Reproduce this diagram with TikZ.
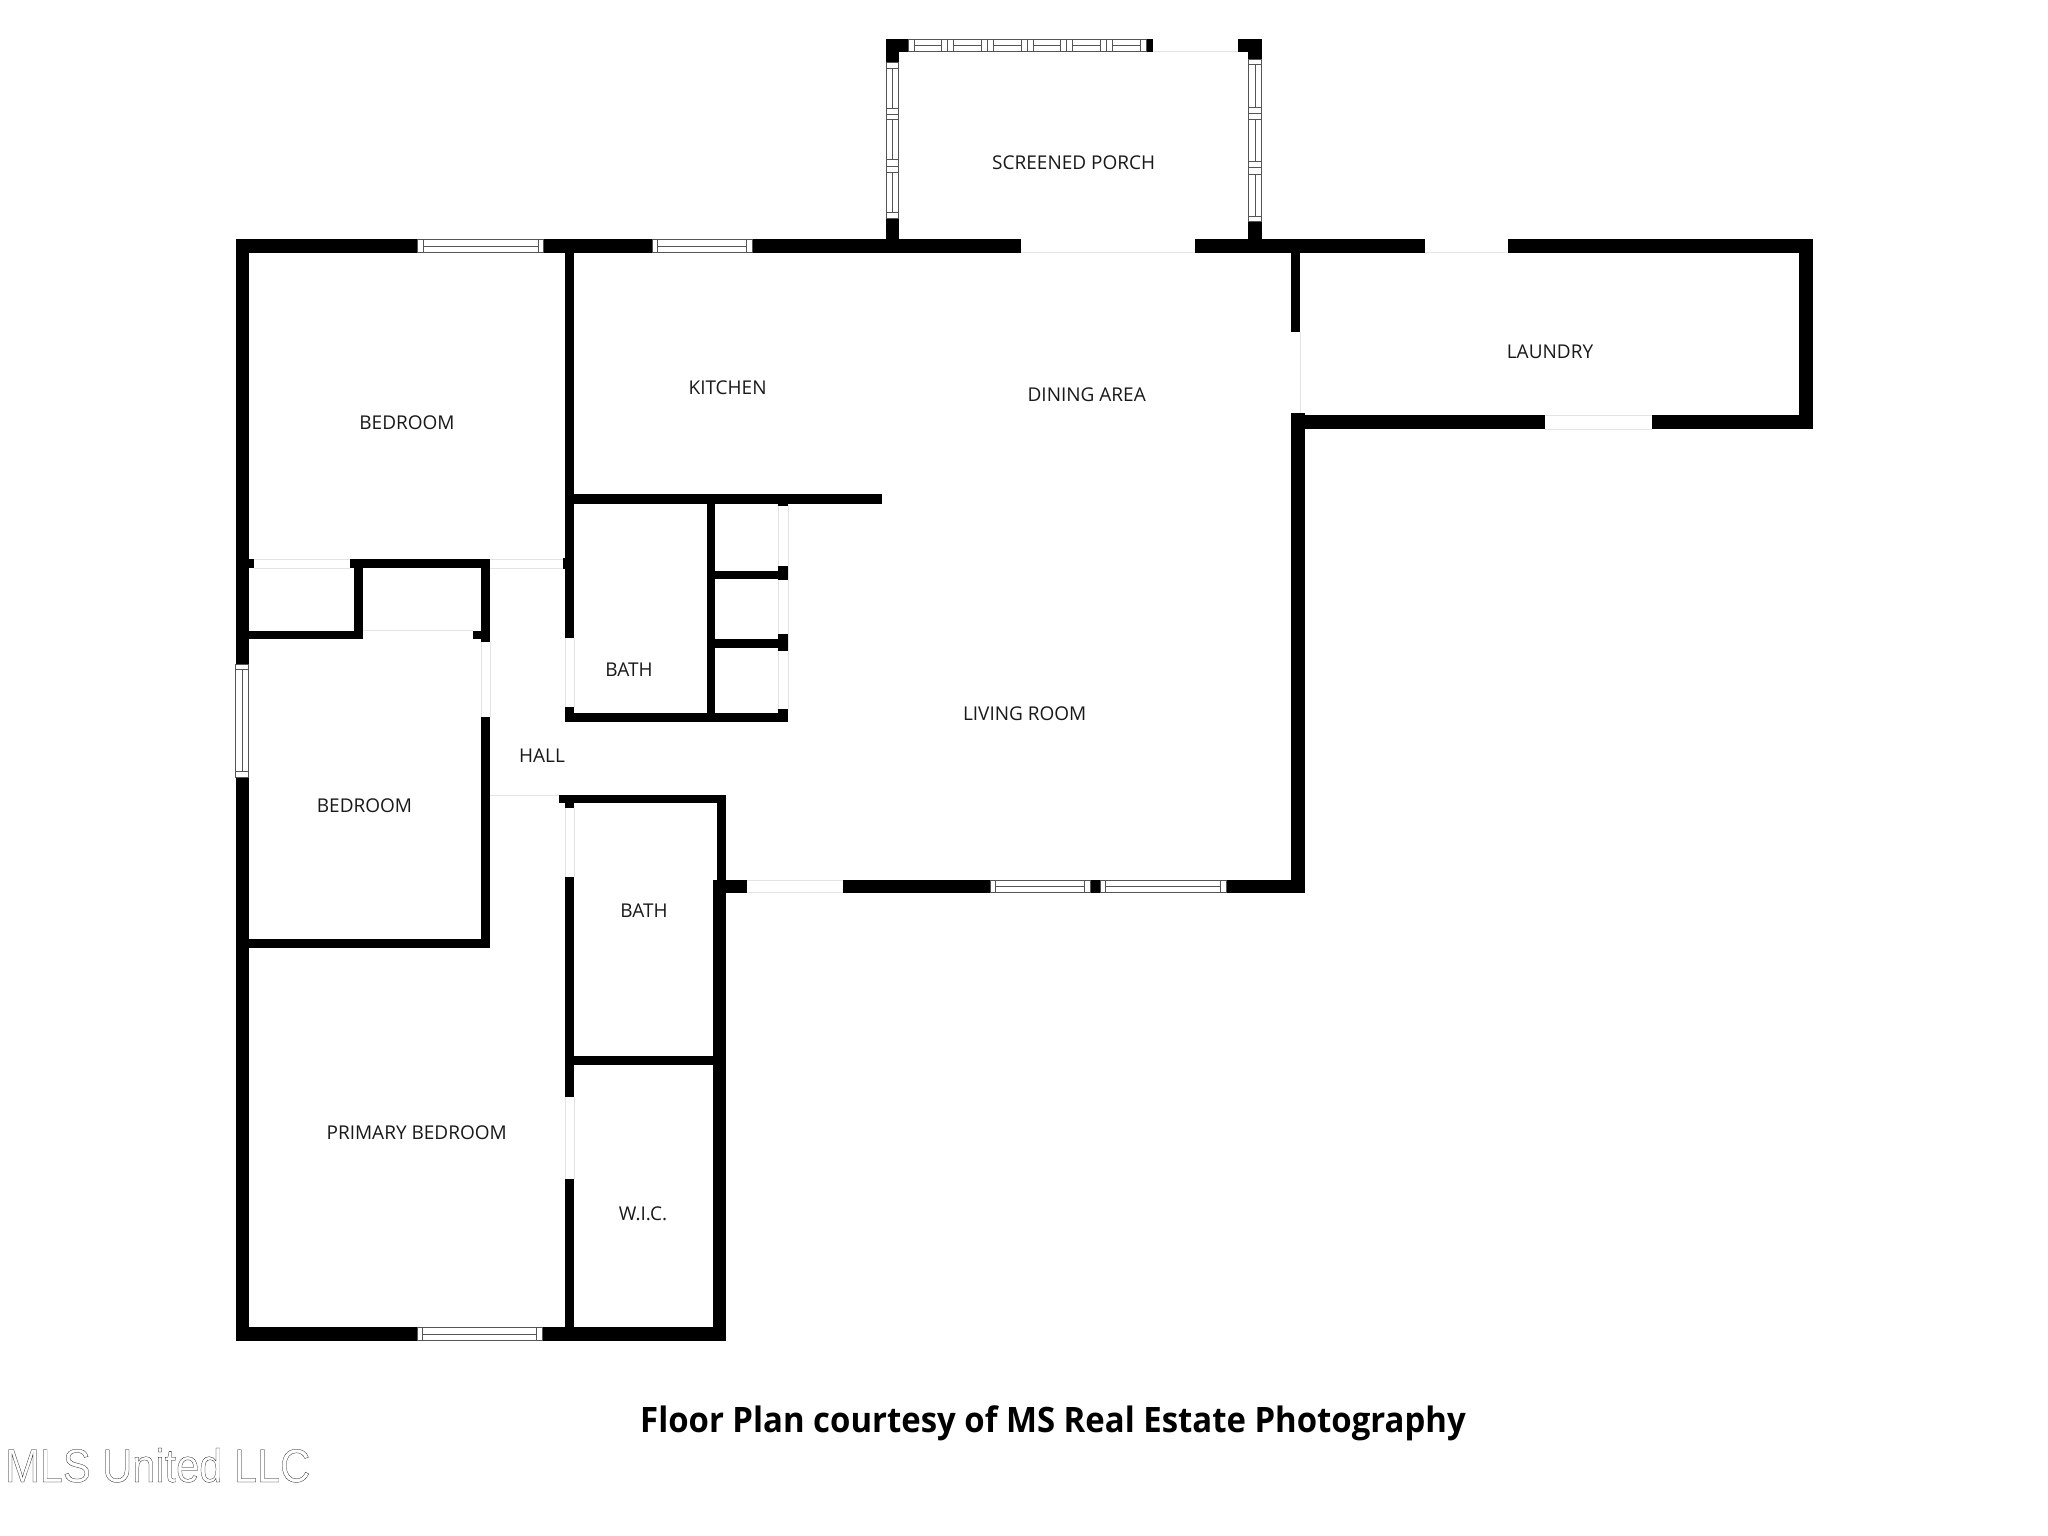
\documentclass[tikz,border=0pt]{standalone}
\usepackage{fontspec}
\setmainfont{Open Sans}
\newfontfamily\markfont{Liberation Sans}
\definecolor{doorgray}{HTML}{E4E4E4}
\definecolor{wingray}{HTML}{555555}
\tikzset{
  wallfill/.style={fill=black},
  doorline/.style={draw=doorgray, line width=1pt},
  winline/.style={draw=wingray, line width=1pt},
  roomlabel/.style={inner sep=0pt, font=\fontsize{19}{19}\selectfont, text=black!90},
}
% plain windows: x1 x2 y1 y2
\newcommand{\hwindow}[4]{
  \draw[winline, fill=white] (#1,#3) rectangle (#2,#4);
  \draw[winline] (#1+5.5,#3) -- (#1+5.5,#4) (#2-5.5,#3) -- (#2-5.5,#4);
  \draw[winline] (#1+5.5,{(#3+#4)/2}) -- (#2-5.5,{(#3+#4)/2});
}
\newcommand{\vwindow}[4]{
  \draw[winline, fill=white] (#1,#3) rectangle (#2,#4);
  \draw[winline] (#1,#3+5.5) -- (#2,#3+5.5) (#1,#4-5.5) -- (#2,#4-5.5);
  \draw[winline] ({(#1+#2)/2},#3+5.5) -- ({(#1+#2)/2},#4-5.5);
}
\begin{document}
\begin{tikzpicture}[x=1pt, y=-1pt]
  \useasboundingbox (0,0) rectangle (2048,1536);
  \fill[white] (0,0) rectangle (2048,1536);

  % door thresholds
  \foreach \xa/\ya/\xb/\yb in {1153/52/1238/52, 1021/252.7/1195/252.7, 1425/252.7/1507/252.7,
      1300.4/332/1300.4/413, 1545/415.3/1652/415.3, 1545/429/1652/429,
      747/880/843/880, 747/892.7/843/892.7, 254/559.3/350/559.3, 254/568.3/350/568.3,
      490/559.3/564/559.3, 490/568.3/564/568.3, 363/630.7/473/630.7,
      481/642/481/717, 490/642/490/717, 565/638/565/707, 574/638/574/707,
      490/795/559/795, 565/808/565/877, 574/808/574/877,
      565/1097/565/1179, 574/1097/574/1179, 778/505/778/709, 788/505/788/709}
    \draw[doorline] (\xa,\ya) -- (\xb,\yb);

  % walls
  \foreach \xa/\ya/\xb/\yb in {
      % outside, top and right
      235.5/239.3/417.5/252.7, 543.6/239.3/652/252.7, 752/239.3/1021/252.7,
      1195/239.3/1425.4/252.7, 1507.5/239.3/1812.5/252.7, 1798.6/239.3/1812.5/429,
      1291.4/415.3/1545/429, 1652/415.3/1812.5/429, 1291.4/252/1300.4/332,
      1291.4/413.3/1304.6/892.7,
      % outside, bottom and left
      726/880/747.3/892.7, 843.3/880/990/892.7, 1090/880/1100/892.7, 1226/880/1304.6/892.7,
      235.5/239.3/249/664, 235.5/777.3/249/1341, 235.5/1327.3/417/1341, 542/1327.3/726/1341,
      % porch
      886/39/908/52, 886/39/899.3/63, 886/218/899.3/240, 1146/39/1153/52,
      1238/39/1262/52, 1248/39/1262/59, 1248/222/1262/240,
      % closets and bedrooms
      249/559.3/254.4/568.3, 350/559.3/490.2/568.3, 354/568/362.7/639.3, 249/630.7/362.7/639.3,
      481/559.3/490.2/642, 472.6/630.7/481/639.3, 481/717/490.2/948.3, 249/939/490.2/948.3,
      % kitchen and upper bath
      565/252/574/638, 563.3/558/574/568.7, 565/707/574/722, 565/494.3/882.3/504,
      565/713.3/788/722, 706.8/504/715.4/722, 715/570.7/778/579.3, 778/565.7/788/580,
      715/639.3/778/648.3, 778/634.3/788/650.7, 778/709/788/722, 778/504/788/505.5,
      % lower bath and W.I.C.
      559/795/726/803.3, 565/803/574/808, 565/877/574/1097, 565/1179/574/1341,
      717.2/795/726/880, 713/880/726/1341, 574/1056/713/1065}
    \fill[wallfill] (\xa,\ya) rectangle (\xb,\yb);

  % windows
  \hwindow{417.5}{543.6}{239.8}{252.2}
  \hwindow{652}{752}{239.8}{252.2}
  \hwindow{417}{542}{1327.8}{1340.5}
  \hwindow{990}{1090}{880.5}{892.2}
  \hwindow{1100}{1226}{880.5}{892.2}
  \vwindow{235.8}{248.6}{664}{777.3}

  % porch windows
  \draw[winline, fill=white] (908,39.5) rectangle (1146,51.5);
  \foreach \n in {0,...,5}
    \draw[winline] (914+\n*39.73,39.5) rectangle (941.7+\n*39.73,51.5)
      (914+\n*39.73,45.5) -- (941.7+\n*39.73,45.5);
  \foreach \n in {0,...,4}
    \draw[winline] (947.7+\n*39.73,39.5) -- (947.7+\n*39.73,51.5);
  \draw[winline, fill=white] (886.5,62.7) rectangle (898.8,218.3);
  \foreach \ya in {68.3,120,172.3}
    \draw[winline] (886.5,\ya) rectangle (898.8,\ya+40) (892.6,\ya) -- (892.6,\ya+40);
  \draw[winline] (886.5,114.2) -- (898.8,114.2) (886.5,166.2) -- (898.8,166.2);
  \draw[winline, fill=white] (1248.5,59.3) rectangle (1261.5,221.7);
  \foreach \ya in {65,119.3,174}
    \draw[winline] (1248.5,\ya) rectangle (1261.5,\ya+42.3) (1255,\ya) -- (1255,\ya+42.3);
  \draw[winline] (1248.5,113.3) -- (1261.5,113.3) (1248.5,167.8) -- (1261.5,167.8);

  % room names
  \node[roomlabel] (porch) at (1073.7,163) {SCREENED PORCH};
  \node[roomlabel] (laundry) at (1550,351.5) {LAUNDRY};
  \node[roomlabel] (kitchen) at (727.6,387.6) {KITCHEN};
  \node[roomlabel] (dining) at (1086.7,395) {DINING AREA};
  \node[roomlabel] (bedroomtop) at (407,423) {BEDROOM};
  \node[roomlabel] (bathtop) at (629,669.5) {BATH};
  \node[roomlabel] (living) at (1024.7,714) {LIVING ROOM};
  \node[roomlabel] (hall) at (542,756) {HALL};
  \node[roomlabel] (bedroomleft) at (364.5,806) {BEDROOM};
  \node[roomlabel] (bathlow) at (644,911) {BATH};
  \node[roomlabel] (primary) at (416.7,1133) {PRIMARY BEDROOM};
  \node[roomlabel] (wic) at (643,1213.5) {W.I.C.};

  % credit lines
  \node[inner sep=0pt, anchor=base, xscale=.94, transform shape,
    font=\bfseries\fontsize{35}{35}\selectfont] (credit)
    at (1053,1432) {Floor Plan courtesy of MS Real Estate Photography};
  \node[inner sep=0pt, anchor=base west, xscale=.885, transform shape,
    font=\markfont\fontsize{47}{47}\selectfont] (mark)
    at (5,1482) {\special{pdf:code q 1 Tr 0.25 w}MLS United LLC\special{pdf:code Q}};
\end{tikzpicture}
\end{document}
